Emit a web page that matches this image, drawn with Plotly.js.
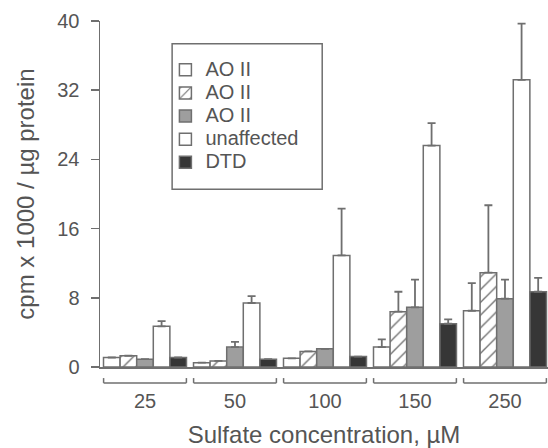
<!DOCTYPE html>
<html>
<head>
<meta charset="utf-8">
<script src="https://cdn.plot.ly/plotly-3.0.1.min.js"></script>
<style>html,body{margin:0;padding:0;background:#fff;}#chart{width:548px;height:448px;}</style>
</head>
<body>
<div id="chart"></div>
<script>
const categories = ['25', '50', '100', '150', '250'];
const seriesNames = ['AO II', 'AO II', 'AO II', 'unaffected', 'DTD'];
const aoA = [1.1, 0.5, 1.0, 2.3, 6.5];
const aoAErr = [0, 0, 0, 0.9, 3.2];
const aoB = [1.3, 0.7, 1.8, 6.4, 10.9];
const aoBErr = [0, 0, 0, 2.3, 7.8];
const aoC = [0.9, 2.3, 2.1, 6.9, 7.9];
const aoCErr = [0, 0.6, 0, 3.2, 2.2];
const unaffected = [4.7, 7.4, 12.9, 25.6, 33.2];
const unaffectedErr = [0.6, 0.8, 5.4, 2.6, 6.5];
const dtd = [1.1, 0.9, 1.2, 5.0, 8.7];
const dtdErr = [0, 0, 0, 0.5, 1.6];
const yTicks = [0, 8, 16, 24, 32, 40];

const LINE = '#6f6f6f';
const TEXT = '#555555';
const FONT = 'Liberation Sans, Arial, sans-serif';

function barTrace(name, y, err, fill, pattern) {
  const marker = { color: fill, line: { color: LINE, width: 1.5 } };
  if (pattern) marker.pattern = pattern;
  return {
    type: 'bar', name: '<span style="font-size:20px">' + name + '</span>', x: categories, y: y,
    marker: marker,
    error_y: { type: 'data', symmetric: false, array: err, arrayminus: err.map(() => 0),
               color: LINE, thickness: 1.8, width: 4 }
  };
}

const data = [
  barTrace(seriesNames[0], aoA, aoAErr, '#ffffff'),
  barTrace(seriesNames[1], aoB, aoBErr, '#ffffff',
           { shape: '/', fgcolor: LINE, bgcolor: '#ffffff', size: 9, solidity: 0.15, fillmode: 'replace' }),
  barTrace(seriesNames[2], aoC, aoCErr, '#9e9e9e'),
  barTrace(seriesNames[3], unaffected, unaffectedErr, '#ffffff'),
  barTrace(seriesNames[4], dtd, dtdErr, '#363636')
];

const shapes = [];
const half = 0.46;
categories.forEach((c, i) => {
  const yTop = -0.032, yBot = -0.046;
  const st = { type: 'line', xref: 'x', yref: 'paper', line: { color: LINE, width: 1.5 } };
  shapes.push(Object.assign({}, st, { x0: i - half, x1: i + half, y0: yBot, y1: yBot }));
  shapes.push(Object.assign({}, st, { x0: i - half, x1: i - half, y0: yBot, y1: yTop }));
  shapes.push(Object.assign({}, st, { x0: i + half, x1: i + half, y0: yBot, y1: yTop }));
});
shapes.push({ type: 'rect', xref: 'paper', yref: 'paper', x0: 0.161, x1: 0.496, y0: 0.514, y1: 0.934,
              line: { color: LINE, width: 1.5 }, fillcolor: 'rgba(0,0,0,0)' });

const layout = {
  width: 548, height: 448,
  margin: { l: 100, r: 0, t: 21, b: 81 },
  paper_bgcolor: '#ffffff', plot_bgcolor: '#ffffff',
  font: { family: FONT, color: TEXT, size: 19 },
  barmode: 'group', bargap: 0.078, bargroupgap: 0,
  showlegend: true,
  legend: { x: 0.146, y: 0.907, xanchor: 'left', yanchor: 'top', bgcolor: 'rgba(0,0,0,0)',
            borderwidth: 0, font: { size: 15.5, color: TEXT, family: FONT }, traceorder: 'normal',
            tracegroupgap: 0 },
  xaxis: {
    type: 'category', range: [-0.5, 4.478], showgrid: false, zeroline: false,
    showline: true, linecolor: LINE, linewidth: 1.5, ticks: '',
    ticklabelstandoff: 15, tickfont: { size: 20, color: TEXT },
    title: { text: 'Sulfate concentration, \u00b5M', font: { size: 24, color: TEXT }, standoff: 16 },
    automargin: false, fixedrange: true
  },
  yaxis: {
    range: [0, 40], tickvals: yTicks, ticktext: yTicks.map(String),
    showgrid: false, zeroline: false, showline: true, linecolor: LINE, linewidth: 1.5,
    ticks: 'outside', ticklen: 8, tickwidth: 1.5, tickcolor: LINE,
    ticklabelstandoff: 7,
    tickfont: { size: 20, color: TEXT },
    title: { text: 'cpm x 1000 / \u00b5g protein', font: { size: 24, color: TEXT }, standoff: 16 },
    automargin: false, fixedrange: true
  },
  shapes: shapes
};

Plotly.newPlot('chart', data, layout, { displayModeBar: false, staticPlot: true });
</script>
</body>
</html>
